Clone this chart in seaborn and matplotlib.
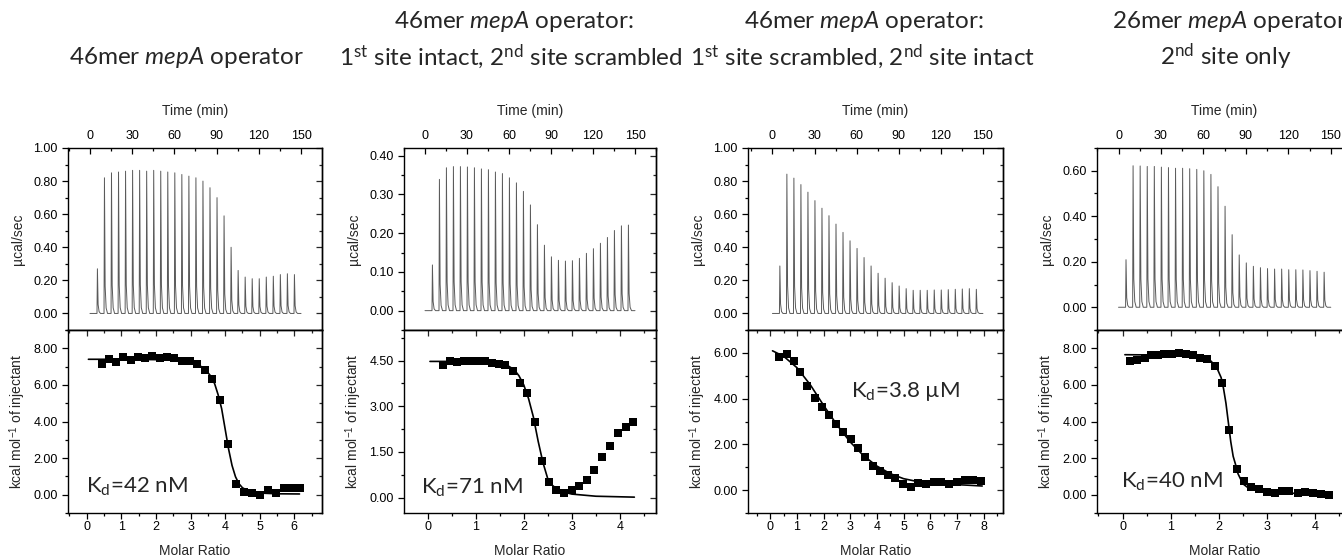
import numpy as np
import pandas as pd
import matplotlib
matplotlib.use("Agg")
import matplotlib.pyplot as plt
from matplotlib.ticker import MultipleLocator, FormatStrFormatter
import seaborn as sns

# ---------------- data ----------------
inj_time = [5, 10, 15, 20, 25, 30, 35, 40, 45, 50, 55, 60, 65, 70, 75,
            80, 85, 90, 95, 100, 105, 110, 115, 120, 125, 130, 135, 140, 145]

peak_p1 = [0.27, 0.82, 0.85, 0.855, 0.86, 0.865, 0.865, 0.86, 0.865, 0.86,
           0.855, 0.85, 0.84, 0.83, 0.82, 0.80, 0.76, 0.70, 0.59, 0.40,
           0.26, 0.22, 0.21, 0.21, 0.22, 0.225, 0.235, 0.24, 0.235]
peak_p2 = [0.118, 0.339, 0.369, 0.372, 0.372, 0.371, 0.369, 0.366, 0.364, 0.358,
           0.354, 0.343, 0.330, 0.308, 0.273, 0.222, 0.169, 0.139, 0.130, 0.128,
           0.129, 0.135, 0.148, 0.160, 0.174, 0.189, 0.207, 0.219, 0.221]
peak_p3 = [0.287, 0.842, 0.818, 0.779, 0.733, 0.682, 0.636, 0.591, 0.540, 0.490,
           0.439, 0.393, 0.338, 0.287, 0.243, 0.213, 0.186, 0.166, 0.150, 0.140,
           0.140, 0.140, 0.142, 0.142, 0.144, 0.146, 0.148, 0.150, 0.146]
peak_p4 = [0.209, 0.622, 0.621, 0.619, 0.619, 0.616, 0.614, 0.611, 0.611, 0.609,
           0.606, 0.600, 0.584, 0.530, 0.444, 0.319, 0.230, 0.195, 0.180, 0.174,
           0.170, 0.168, 0.168, 0.165, 0.165, 0.164, 0.161, 0.158, 0.154]

ratio_p1 = [0.45, 0.65, 0.86, 1.06, 1.27, 1.47, 1.69, 1.90, 2.11, 2.32, 2.53, 2.75,
            2.98, 3.19, 3.41, 3.63, 3.85, 4.08, 4.31, 4.54, 4.77, 5.00, 5.23, 5.46,
            5.69, 5.92, 6.15]
heat_p1 = [7.15, 7.39, 7.25, 7.52, 7.34, 7.54, 7.47, 7.56, 7.49, 7.52, 7.45, 7.28,
           7.28, 7.12, 6.84, 6.33, 5.19, 2.76, 0.59, 0.17, 0.11, 0.00, 0.28, 0.09,
           0.39, 0.39, 0.39]
fitx_p1 = [0.05, 0.5, 1.0, 1.5, 2.0, 2.5, 3.0, 3.2, 3.4, 3.6, 3.7, 3.8, 3.9, 4.0,
           4.1, 4.2, 4.3, 4.4, 4.5, 4.7, 5.0, 5.5, 6.15]
fity_p1 = [7.40, 7.40, 7.40, 7.39, 7.38, 7.35, 7.25, 7.12, 6.90, 6.45, 6.05, 5.45,
           4.70, 3.60, 2.50, 1.60, 0.98, 0.60, 0.38, 0.18, 0.09, 0.05, 0.04]

ratio_p2 = [0.33, 0.46, 0.61, 0.76, 0.90, 1.04, 1.19, 1.33, 1.48, 1.62, 1.77, 1.92,
            2.07, 2.23, 2.37, 2.52, 2.68, 2.84, 3.00, 3.15, 3.31, 3.47, 3.63, 3.79,
            3.96, 4.12, 4.28]
heat_p2 = [4.36, 4.49, 4.45, 4.47, 4.47, 4.47, 4.50, 4.43, 4.40, 4.35, 4.17, 3.75,
           3.43, 2.47, 1.22, 0.51, 0.27, 0.16, 0.25, 0.38, 0.57, 0.92, 1.33, 1.69,
           2.12, 2.32, 2.47]
fitx_p2 = [0.05, 0.5, 1.0, 1.4, 1.6, 1.8, 1.9, 2.0, 2.1, 2.2, 2.3, 2.4, 2.5, 2.6,
           2.7, 2.8, 3.0, 3.5, 4.3]
fity_p2 = [4.47, 4.47, 4.46, 4.45, 4.40, 4.20, 4.00, 3.70, 3.25, 2.65, 1.85, 1.15,
           0.62, 0.40, 0.28, 0.20, 0.12, 0.05, 0.02]

ratio_p3 = [0.33, 0.61, 0.89, 1.13, 1.39, 1.67, 1.93, 2.19, 2.46, 2.73, 3.01, 3.29,
            3.56, 3.84, 4.13, 4.41, 4.69, 4.98, 5.27, 5.55, 5.84, 6.13, 6.42, 6.72,
            7.01, 7.31, 7.61, 7.91]
heat_p3 = [5.82, 5.94, 5.65, 5.15, 4.57, 4.01, 3.63, 3.28, 2.87, 2.55, 2.24, 1.84,
           1.43, 1.05, 0.82, 0.66, 0.54, 0.26, 0.15, 0.29, 0.26, 0.34, 0.34, 0.28,
           0.37, 0.45, 0.44, 0.42]
fitx_p3 = [0.08, 0.5, 1.0, 1.5, 2.0, 2.5, 3.0, 3.5, 4.0, 4.5, 5.0, 5.5, 6.0, 6.5,
           7.0, 7.5, 7.95]
fity_p3 = [6.09, 5.85, 5.35, 4.60, 3.70, 2.85, 2.10, 1.50, 1.05, 0.72, 0.50, 0.38,
           0.30, 0.27, 0.24, 0.21, 0.18]

ratio_p4 = [0.16, 0.31, 0.46, 0.59, 0.73, 0.87, 1.02, 1.17, 1.32, 1.47, 1.62, 1.76,
            1.92, 2.07, 2.22, 2.37, 2.52, 2.68, 2.84, 3.00, 3.16, 3.31, 3.47, 3.64,
            3.79, 3.95, 4.12, 4.30]
heat_p4 = [7.28, 7.37, 7.45, 7.61, 7.61, 7.69, 7.69, 7.72, 7.71, 7.65, 7.45, 7.43,
           7.01, 6.11, 3.51, 1.40, 0.77, 0.42, 0.33, 0.15, 0.11, 0.20, 0.18, 0.07,
           0.17, 0.07, 0.06, -0.04]
fitx_p4 = [0.05, 0.5, 1.0, 1.5, 1.8, 1.95, 2.05, 2.1, 2.15, 2.2, 2.25, 2.3, 2.35,
           2.4, 2.5, 2.6, 2.8, 3.0, 3.5, 4.3]
fity_p4 = [7.65, 7.64, 7.62, 7.58, 7.40, 7.00, 6.40, 5.80, 5.00, 3.95, 2.90, 2.10,
           1.65, 1.15, 0.60, 0.40, 0.22, 0.14, 0.08, 0.05]

titles_top = ["", "46mer $\\mathit{mepA}$ operator:", "46mer $\\mathit{mepA}$ operator:",
              "26mer $\\mathit{mepA}$ operator:"]
titles_bot = ["46mer $\\mathit{mepA}$ operator",
              "1$^{\\mathregular{st}}$ site intact, 2$^{\\mathregular{nd}}$ site scrambled",
              "1$^{\\mathregular{st}}$ site scrambled, 2$^{\\mathregular{nd}}$ site intact",
              "2$^{\\mathregular{nd}}$ site only"]
kd_labels = ["K$_{\\mathregular{d}}$=42 nM", "K$_{\\mathregular{d}}$=71 nM",
             "K$_{\\mathregular{d}}$=3.8 µM", "K$_{\\mathregular{d}}$=40 nM"]

# ---------------- style ----------------
sns.set_style("ticks")
plt.rcParams.update({
    "font.family": ["Liberation Sans", "DejaVu Sans"],
    "mathtext.fontset": "custom",
    "mathtext.rm": "Lato",
    "mathtext.it": "Lato:italic",
    "mathtext.bf": "Lato:bold",
    "axes.linewidth": 1.0,
    "axes.edgecolor": "black",
})

W, H = 1342, 557
fig = plt.figure(figsize=(W / 100, H / 100), dpi=100)

# panel layout (pixel extents)
px_left = [68, 404, 748, 1097]
px_right = [322, 656, 1003, 1352]
top_xlim = [(-15.6, 164.9), (-15.0, 165.0), (-17.4, 164.3), (-15.2, 165.0)]
top_ylim = [(-0.1, 1.0), (-0.05, 0.42), (-0.1, 1.0), (-0.1, 0.7)]
top_ymaj = [0.2, 0.1, 0.2, 0.2]
bot_xlim = [(-0.54, 6.8), (-0.49, 4.75), (-0.84, 8.73), (-0.53, 4.77)]
bot_ylim = [(-1, 9), (-0.5, 5.5), (-1, 7), (-1, 9)]
bot_ymaj = [2.0, 1.5, 2.0, 2.0]
kd_pos = [(-0.02, 0.11), (-0.14, 0.13), (3.02, 4.08), (-0.04, 0.39)]
title_x_top = [187, 514, 864, 1232]
title_x_bot = [187, 511, 863, 1226]

peaks = [peak_p1, peak_p2, peak_p3, peak_p4]
ratios = [ratio_p1, ratio_p2, ratio_p3, ratio_p4]
heats = [heat_p1, heat_p2, heat_p3, heat_p4]
fitxs = [fitx_p1, fitx_p2, fitx_p3, fitx_p4]
fitys = [fity_p1, fity_p2, fity_p3, fity_p4]

# spike template (offset in min, fraction of peak height)
SHAPE = [(0.0, 0.0), (0.3, 1.0), (0.8, 0.2), (1.5, 0.04), (2.5, 0.0)]

def build_trace(times, heights):
    xs, ys = [0.0], [0.0]
    for t, h in zip(times, heights):
        for dx, f in SHAPE:
            xs.append(t + dx)
            ys.append(h * f)
    xs.append(150.0)
    ys.append(0.0)
    return pd.DataFrame({"t": xs, "p": ys})

tick_kw = dict(labelsize=9, colors="black", width=0.9)

def right_in(ax, loc_major, loc_minor):
    sec = ax.secondary_yaxis("right")
    sec.yaxis.set_major_locator(MultipleLocator(loc_major))
    sec.yaxis.set_minor_locator(MultipleLocator(loc_minor))
    sec.tick_params(axis="y", which="major", direction="in", length=4, labelright=False, width=0.9)
    sec.tick_params(axis="y", which="minor", direction="in", length=2.2, labelright=False, width=0.9)
    sec.spines["right"].set_linewidth(1.0)

TFONT = ["Lato", "DejaVu Sans"]

for i in range(4):
    x0 = px_left[i] / W
    w = (px_right[i] - px_left[i]) / W
    ax_t = fig.add_axes([x0, (H - 330) / H, w, 182 / H])
    ax_b = fig.add_axes([x0, (H - 513) / H, w, 183 / H])

    # ---- raw thermogram ----
    df = build_trace(inj_time, peaks[i])
    sns.lineplot(data=df, x="t", y="p", ax=ax_t, color="#5a5a5a", lw=0.7,
                 sort=False, estimator=None)
    ax_t.set_xlim(*top_xlim[i])
    ax_t.set_ylim(*top_ylim[i])
    ax_t.xaxis.set_major_locator(MultipleLocator(30))
    ax_t.xaxis.set_minor_locator(MultipleLocator(15))
    ax_t.yaxis.set_major_locator(MultipleLocator(top_ymaj[i]))
    ax_t.yaxis.set_minor_locator(MultipleLocator(top_ymaj[i] / 2))
    ax_t.yaxis.set_major_formatter(FormatStrFormatter("%.2f"))
    ax_t.xaxis.tick_top()
    ax_t.xaxis.set_label_position("top")
    ax_t.tick_params(axis="x", which="both", direction="in", top=True, bottom=False,
                     labeltop=True, labelbottom=False, pad=4, **tick_kw)
    ax_t.tick_params(axis="x", which="major", length=4)
    ax_t.tick_params(axis="x", which="minor", length=2.2)
    ax_t.tick_params(axis="y", which="both", direction="out", left=True, right=False, **tick_kw)
    ax_t.tick_params(axis="y", which="major", length=4)
    ax_t.tick_params(axis="y", which="minor", length=2.2)
    right_in(ax_t, top_ymaj[i], top_ymaj[i] / 2)
    ax_t.set_xlabel("Time (min)", fontsize=10, labelpad=11)
    ax_t.set_ylabel("µcal/sec", fontsize=10, labelpad=6)
    for s in ax_t.spines.values():
        s.set_visible(True)
        s.set_linewidth(1.0)

    # ---- integrated heats ----
    sns.lineplot(x=fitxs[i], y=fitys[i], ax=ax_b, color="black", lw=1.2,
                 sort=False, estimator=None)
    sns.scatterplot(x=ratios[i], y=heats[i], ax=ax_b, marker="s", color="black",
                    s=28, linewidth=0, zorder=3)
    ax_b.set_xlim(*bot_xlim[i])
    ax_b.set_ylim(*bot_ylim[i])
    ax_b.xaxis.set_major_locator(MultipleLocator(1))
    ax_b.xaxis.set_minor_locator(MultipleLocator(0.5))
    ax_b.yaxis.set_major_locator(MultipleLocator(bot_ymaj[i]))
    ax_b.yaxis.set_minor_locator(MultipleLocator(bot_ymaj[i] / 2))
    ax_b.yaxis.set_major_formatter(FormatStrFormatter("%.2f"))
    ax_b.xaxis.set_major_formatter(FormatStrFormatter("%d"))
    ax_b.tick_params(axis="both", which="both", direction="out", top=False, right=False, **tick_kw)
    ax_b.tick_params(axis="x", which="both", pad=1.5)
    ax_b.tick_params(axis="both", which="major", length=4)
    ax_b.tick_params(axis="both", which="minor", length=2.2)
    sec = ax_b.secondary_xaxis("top")
    sec.xaxis.set_major_locator(MultipleLocator(1))
    sec.xaxis.set_minor_locator(MultipleLocator(0.5))
    sec.tick_params(axis="x", which="major", direction="in", length=4, labeltop=False, width=0.9)
    sec.tick_params(axis="x", which="minor", direction="in", length=2.2, labeltop=False, width=0.9)
    right_in(ax_b, bot_ymaj[i], bot_ymaj[i] / 2)
    ax_b.set_xlabel("Molar Ratio", fontsize=10, labelpad=8)
    ax_b.set_ylabel("kcal mol$^{\\mathregular{-1}}$ of injectant", fontsize=10, labelpad=4)
    for s in ax_b.spines.values():
        s.set_visible(True)
        s.set_linewidth(1.0)
    ax_b.text(kd_pos[i][0], kd_pos[i][1], kd_labels[i], fontsize=16,
              family=TFONT, ha="left", va="baseline")

    # ---- titles ----
    if titles_top[i]:
        fig.text(title_x_top[i] / W, 1 - 21 / H, titles_top[i], ha="center", va="center",
                 fontsize=17.5, family=TFONT)
    fig.text(title_x_bot[i] / W, 1 - 57 / H, titles_bot[i], ha="center", va="center",
             fontsize=17.5, family=TFONT)

fig.savefig("out.png", dpi=100)
